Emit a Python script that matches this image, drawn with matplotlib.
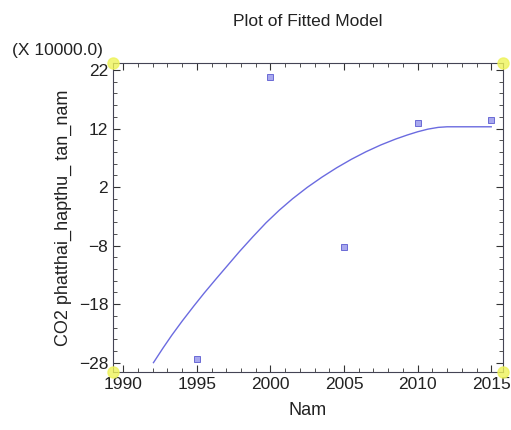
import numpy as np
import matplotlib.pyplot as plt
from matplotlib.ticker import MultipleLocator

plt.rcParams['font.family'] = ['Liberation Sans', 'DejaVu Sans']

# observed points (units of 10000)
years = [1995, 2000, 2005, 2010, 2015]
co2 = [-27.3, 20.8, -8.2, 13.0, 13.5]

# fitted curve
fit_years = [1992.05, 1992.7, 1993.3, 1994.0, 1994.8, 1995.5, 1996.3, 1997.1,
             1997.9, 1998.8, 1999.7, 2000.6, 2001.5, 2002.5, 2003.5, 2004.5,
             2005.5, 2006.5, 2007.5, 2008.5, 2009.3, 2010.0, 2010.7, 2011.4,
             2012.0, 2013.5, 2015.0]
fit_vals = [-28.0, -25.5, -23.3, -20.9, -18.3, -16.1, -13.7, -11.35,
            -9.0, -6.5, -4.1, -1.95, 0.0, 1.95, 3.7, 5.3,
            6.75, 8.05, 9.2, 10.2, 10.9, 11.45, 11.9, 12.2,
            12.3, 12.3, 12.3]

fig = plt.figure(figsize=(5.11, 4.30), dpi=100)
ax = fig.add_axes([113/511, 1 - 372/430, 390/511, 309/430])

ax.plot(fit_years, fit_vals, color='#6b6be0', linewidth=1.0)
ax.plot(years, co2, linestyle='none', marker='s', markersize=3.8,
        markerfacecolor='#a8a8ee', markeredgecolor='#5a5ad0', markeredgewidth=0.6)

ax.set_xlim(1989.3, 2015.8)
ax.set_ylim(-29.6, 23.2)
ax.xaxis.set_major_locator(MultipleLocator(5))
ax.xaxis.set_minor_locator(MultipleLocator(1))
ax.set_yticks([-28, -18, -8, 2, 12, 22])
ax.set_yticks(np.arange(-28, 23, 2), minor=True)

ax.tick_params(which='both', direction='in', top=True, right=True,
               labelsize=12.5, colors='#333333', labelcolor='#222222')
ax.tick_params(which='major', length=5, width=0.8)
ax.tick_params(which='minor', length=3, width=0.6)
for s in ax.spines.values():
    s.set_color('#444455')
    s.set_linewidth(0.8)

# corner markers
for cx, cy in [(0, 0), (0, 1), (1, 0), (1, 1)]:
    ax.plot(cx, cy, marker='o', markersize=8, color='#eef35a', alpha=0.8,
            transform=ax.transAxes, clip_on=False, zorder=5)

fig.text(308/511, 1 - 21/430, 'Plot of Fitted Model', fontsize=12.5,
         color='#222222', ha='center', va='center')
ax.set_xlabel('Nam', fontsize=13, color='#222222', labelpad=7)
ax.set_ylabel('CO2 phatthai_hapthu_ tan_nam', fontsize=13, color='#222222', labelpad=5)
fig.text(12/511, 1 - 50/430, '(X 10000.0)', fontsize=12.5, color='#222222', va='center')

fig.savefig('out.png', dpi=100)
